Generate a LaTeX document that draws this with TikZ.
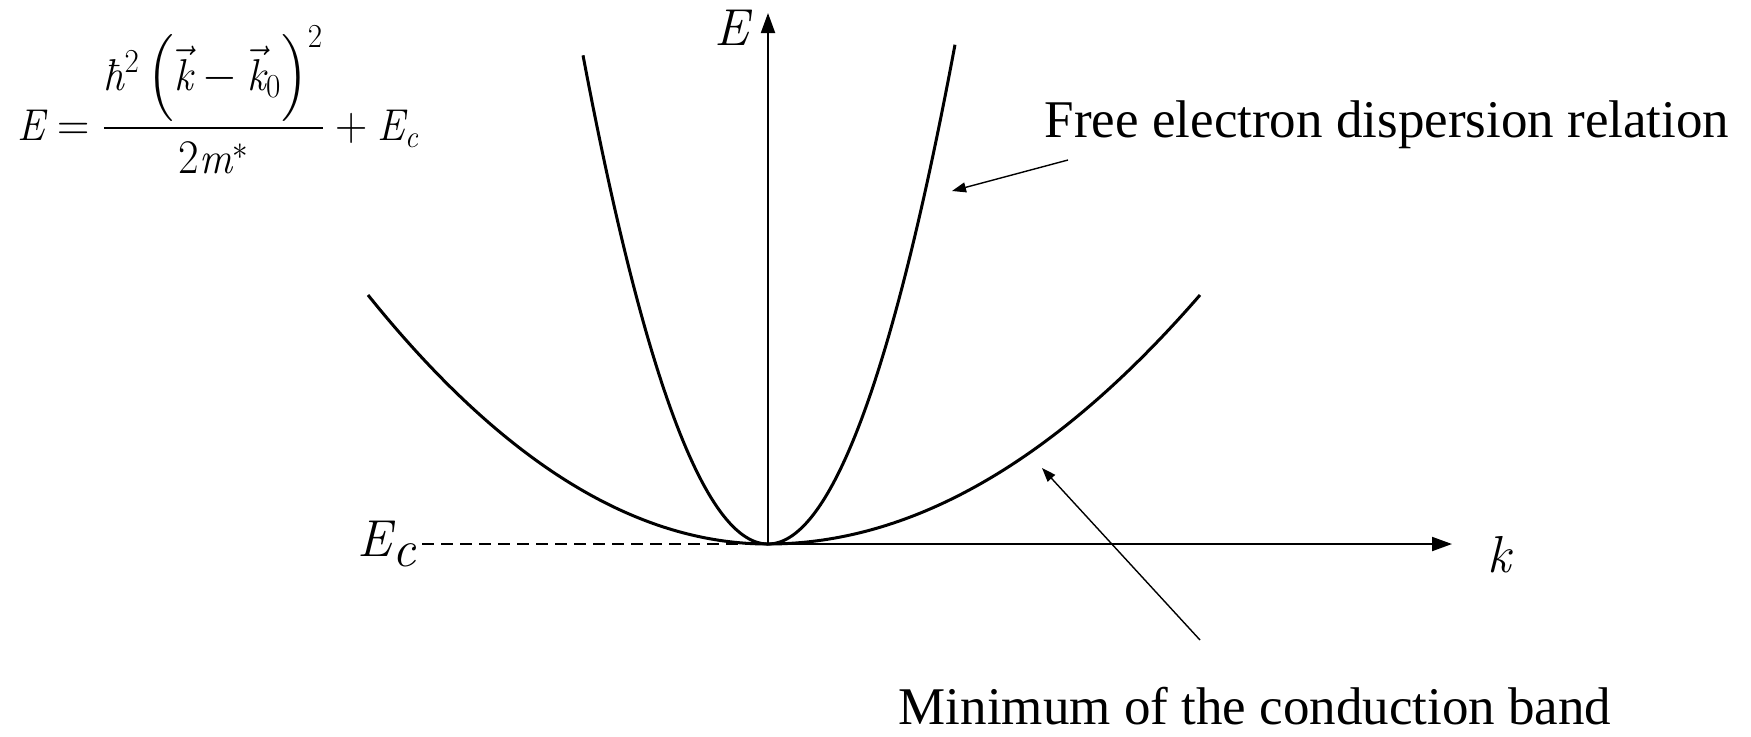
\documentclass[tikz,border=0pt]{standalone}
\usepackage{fontspec}
\usepackage{amsmath}
\setmainfont{Liberation Serif}
\newfontfamily\lmfont{Latin Modern Roman}
\usetikzlibrary{arrows.meta}
\newcommand{\vi}[1]{\text{\lmfont\itshape #1}}
\begin{document}
\begin{tikzpicture}[x=0.5pt,y=-0.5pt,
    axis/.style={line width=1pt,-{Triangle[length=10pt,width=7pt]}},
    band/.style={line width=1.5pt},
    pointer/.style={line width=0.7pt,-{Triangle[length=7pt,width=5pt]}},
    lbl/.style={inner sep=0pt,font=\fontsize{26.5}{30}\selectfont}]
    \useasboundingbox (0,0) rectangle (1751,736);
    \coordinate (o) at (768,544);
    \coordinate (etop) at (768,13);
    \coordinate (kend) at (1452,544);
    \coordinate (dstart) at (422,544);
    \draw[axis] (o) -- (etop);
    \draw[axis] (o) -- (kend);
    \draw[line width=0.7pt,dash pattern=on 6pt off 3.5pt] (dstart) -- (o);
    \node[lbl,font=\fontsize{26}{30}\selectfont] (elabel) at (732,28) {\vi{E}};
    \node[lbl,font=\fontsize{26}{30}\selectfont] (klabel) at (1499,555) {\vi{k}};
    \node[lbl,font=\fontsize{26}{30}\selectfont,anchor=east] (eclabel) at ([xshift=-3pt]dstart) {\vi{E}\raisebox{-0.4ex}{\vi{c}}};
    \node[inner sep=0pt,font=\fontsize{23}{28}\selectfont] (formula) at (218,100)
        {\scalebox{0.9}[0.97]{$\displaystyle \vi{E}=\frac{\vi{ħ}^{2}\left(\vec{\vi{k}}-\vec{\vi{k}}_{0}\right)^{2}}{2\vi{m}^{*}}+\vi{E}_{\vi{c}}$}};
    \draw[band] plot[domain=-185:187,samples=120] ({768+\x},{544-494*(\x/186)^2});
    \draw[band] plot[domain=-400:0,samples=80] ({768+\x},{544-249*(\x/400)^2});
    \draw[band] plot[domain=0:432,samples=80] ({768+\x},{544-249*(\x/432)^2});
    \node[lbl] (free) at (1387,125) {Free electron dispersion relation};
    \node[lbl] (cbmin) at (1255,706) {Minimum of the conduction band};
    \coordinate (fstart) at (1068,160);
    \coordinate (ftip) at (952,191);
    \coordinate (mstart) at (1200,640);
    \coordinate (mtip) at (1042,468);
    \draw[pointer] (fstart) -- (ftip);
    \draw[pointer] (mstart) -- (mtip);
\end{tikzpicture}
\end{document}
